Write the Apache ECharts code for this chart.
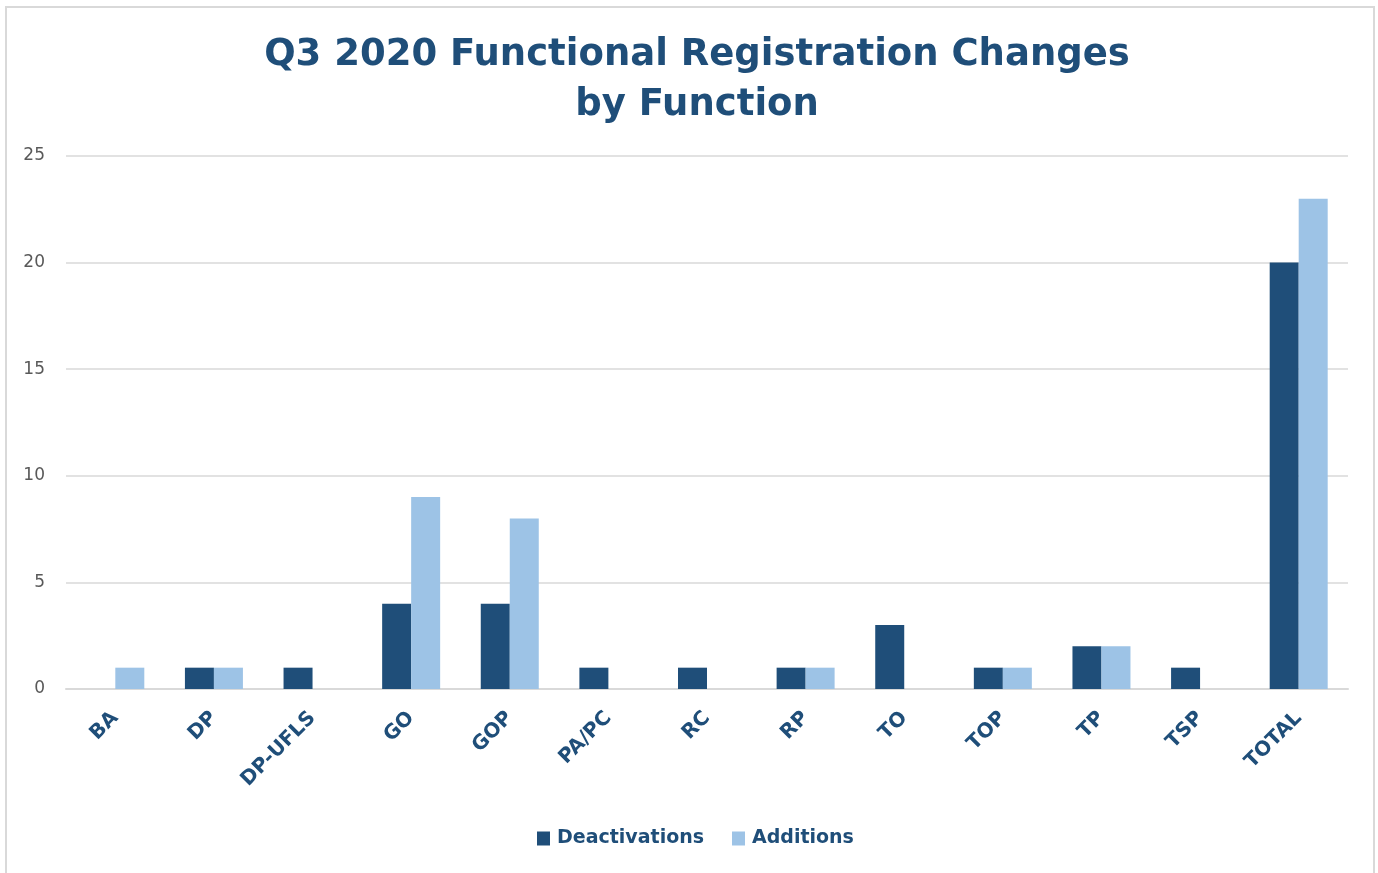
<!DOCTYPE html>
<html>
<head>
<meta charset="utf-8">
<script src="https://cdn.jsdelivr.net/npm/echarts@6/dist/echarts.min.js"></script>
<style>
  html, body { margin: 0; padding: 0; background: #fff; }
  #frame { position: absolute; left: 5px; top: 6px; width: 1370px; height: 870px; border: 2px solid #d9d9d9; box-sizing: border-box; }
  #chart { position: absolute; left: 0; top: 0; width: 1378px; height: 873px; }
</style>
</head>
<body>
<div id="frame"></div>
<div id="chart"></div>
<script>
const categories = ['BA', 'DP', 'DP-UFLS', 'GO', 'GOP', 'PA/PC', 'RC', 'RP', 'TO', 'TOP', 'TP', 'TSP', 'TOTAL']
const deactivations = [0, 1, 1, 4, 4, 1, 1, 1, 3, 1, 2, 1, 20]
const additions = [1, 1, 0, 9, 8, 0, 0, 1, 0, 1, 2, 0, 23]
const yTicks = [0, 5, 10, 15, 20, 25]

const dark = '#1F4E79'
const light = '#9DC3E6'
const font = 'DejaVu Sans'

const chart = echarts.init(document.getElementById('chart'))

// zero-valued bars are hidden, like the source (no empty stubs)
const toData = arr => arr.map(v => (v === 0 ? null : v))

chart.setOption({
  animation: false,
  title: {
    text: 'Q3 2020 Functional Registration Changes\nby Function',
    left: 692,
    top: 25,
    textAlign: 'center',
    textStyle: {
      fontFamily: font,
      fontSize: 37,
      fontWeight: 'bold',
      color: dark,
      lineHeight: 50
    }
  },
  legend: {
    bottom: 20,
    left: 532,
    itemWidth: 13,
    itemHeight: 14,
    itemGap: 28,
    icon: 'rect',
    textStyle: { fontFamily: font, fontSize: 19, fontWeight: 'bold', color: dark, padding: [0, 0, 0, 2] },
    data: ['Deactivations', 'Additions']
  },
  grid: { left: 66, right: 30, top: 156, bottom: 184, containLabel: false },
  xAxis: {
    type: 'category',
    data: categories,
    axisLine: { lineStyle: { color: '#d9d9d9', width: 2 } },
    axisTick: { show: false },
    axisLabel: {
      interval: 0,
      rotate: 45,
      margin: 26,
      fontFamily: font,
      fontSize: 20,
      fontWeight: 'bold',
      color: dark
    }
  },
  yAxis: {
    type: 'value',
    min: yTicks[0],
    max: yTicks[yTicks.length - 1],
    interval: 5,
    axisLine: { show: false },
    axisTick: { show: false },
    splitLine: { lineStyle: { color: '#d9d9d9', width: 1.5 } },
    axisLabel: { fontFamily: font, fontSize: 17, color: '#595959', margin: 21 }
  },
  series: [
    {
      name: 'Deactivations',
      type: 'bar',
      data: toData(deactivations),
      barWidth: 29,
      barGap: '0%',
      itemStyle: { color: dark }
    },
    {
      name: 'Additions',
      type: 'bar',
      data: toData(additions),
      barWidth: 29,
      barGap: '0%',
      itemStyle: { color: light }
    }
  ]
})
</script>
</body>
</html>
